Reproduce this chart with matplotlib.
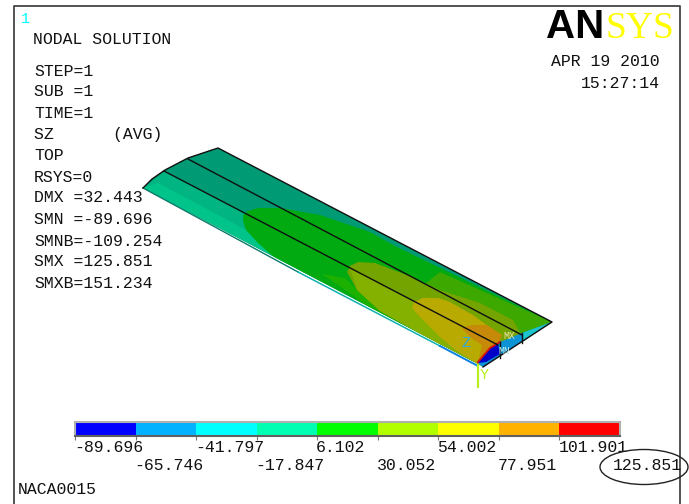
import matplotlib
matplotlib.use("Agg")
import matplotlib.pyplot as plt
from matplotlib.patches import Ellipse, Polygon

W, H = 689, 504

info_lines = ["STEP=1", "SUB =1", "TIME=1", "SZ      (AVG)", "TOP", "RSYS=0", "DMX =32.443",
              "SMN =-89.696", "SMNB=-109.254", "SMX =125.851", "SMXB=151.234"]
info_y = [71, 92, 114, 135, 156, 177, 198, 219, 241, 262, 284]

levels = [-89.696, -65.746, -41.797, -17.847, 6.102, 30.052, 54.002, 77.951, 101.901, 125.851]
level_labels = ["-89.696", "-65.746", "-41.797", "-17.847", "6.102",
                "30.052", "54.002", "77.951", "101.901", "125.851"]
band_colors = ["#0000ff", "#00b2ff", "#00ffff", "#00ffb2", "#00ff00",
               "#b2ff00", "#ffff00", "#ffb200", "#ff0000"]

# wing outline and the contour bands, in image pixels
wing = [(143, 188), (152, 179), (165, 170), (188, 158), (218, 148), (552, 322), (483, 367), (478, 364)]
contours = [
    ([(143, 188), (165, 171), (300, 241), (478, 364)], "#00b582"),
    ([(143, 188), (158, 183), (250, 232), (300, 262), (330, 290), (298, 272)], "#00c48a"),
    ([(298, 273), (275, 258), (258, 243), (246, 230), (243, 221), (243, 215), (248, 211), (258, 208),
      (280, 208), (320, 215), (370, 232), (395, 246), (552, 322), (478, 364)], "#00aa10"),
    ([(322, 274), (345, 278), (357, 290), (380, 311), (440, 347), (395, 325)], "#1cb000"),
    ([(440, 272), (552, 322), (522, 336), (460, 303), (425, 284)], "#3ca800"),
    ([(347, 272), (350, 266), (358, 262), (375, 263), (407, 275), (440, 290), (480, 303), (513, 320),
      (522, 336), (478, 364), (440, 345), (410, 328), (380, 311), (357, 290)], "#74a400"),
    ([(350, 268), (412, 301), (498, 345), (478, 364), (440, 345), (410, 328), (380, 311), (357, 290)], "#84b000"),
    ([(412, 308), (414, 302), (423, 298), (438, 298), (450, 302), (473, 315), (500, 335), (478, 364),
      (457, 351), (440, 337), (420, 317)], "#b8aa00"),
    ([(462, 328), (472, 325), (487, 325), (502, 335), (498, 345), (478, 363), (482, 345), (470, 337)], "#c68a08"),
]
tip_faces = [
    ([(478, 363), (490, 348), (500, 342), (522, 333), (552, 322), (483, 367)], "#0c93d6"),
    ([(522, 333), (552, 322), (522, 342)], "#1cc4cc"),
    ([(478, 363), (490, 348), (498, 344), (500, 354), (486, 362)], "#0000c8"),
]
spar_lines = [
    [(164, 171), (498, 345)],
    [(188, 159), (522, 335)],
    [(500, 342), (500, 358)],
    [(522, 333), (522, 343)],
]

plt.rcParams["font.family"] = ["Liberation Mono", "DejaVu Sans Mono"]
fig = plt.figure(figsize=(W / 100, H / 100), dpi=100)
ax = fig.add_axes([0, 0, 1, 1])
ax.set_xlim(0, W)
ax.set_ylim(H, 0)
ax.axis("off")

# frame
ax.plot([13.5, 13.5, 679.5, 679.5], [H, 6, 6, H], color="#444444", lw=1.3)

# wing
wing_patch = Polygon(wing, closed=True, fc="#009a74", ec="none", zorder=2)
ax.add_patch(wing_patch)
for pts, col in contours:
    p = Polygon(pts, closed=True, fc=col, ec="none", zorder=3)
    ax.add_patch(p)
    p.set_clip_path(wing_patch)
for pts, col in tip_faces:
    ax.add_patch(Polygon(pts, closed=True, fc=col, ec="none", zorder=4))
ax.plot([143, 298], [188, 272], color="#0a7a6a", lw=1.0, zorder=5)
ax.plot([298, 440], [272, 346], color="#10b0b0", lw=1.1, zorder=5)
ax.plot([440, 478], [346, 366], color="#0a80e0", lw=1.4, zorder=5)
ax.plot([478, 490, 500], [362, 348, 342], color="#d81010", lw=1.3, zorder=6)
ax.plot([143, 152, 165, 188, 218, 552, 483], [188, 179, 170, 158, 148, 322, 367],
        color="#101010", lw=1.0, zorder=6)
for line in spar_lines:
    xs, ys = zip(*line)
    ax.plot(xs, ys, color="#101010", lw=1.0, zorder=6)

# triad and markers
ax.plot([478, 478], [365, 387], color="#b8f020", lw=1.6, zorder=7)
ax.text(466, 343, "Z", color="#30a8e0", fontsize=11, ha="center", va="center", zorder=8)
ax.text(484, 375, "Y", color="#b8f020", fontsize=11, ha="center", va="center", zorder=8)
ax.text(509, 336, "MX", color="#f0e0b0", fontsize=7, ha="center", va="center", zorder=8)
ax.text(504, 351, "MN", color="#c0f0f0", fontsize=7, ha="center", va="center", zorder=8)

# header text
ax.text(21, 19, "1", color="#00ffff", fontsize=11, va="center")
ax.text(33, 39, "NODAL SOLUTION", color="#111111", fontsize=11.9, va="center")
for line, y in zip(info_lines, info_y):
    ax.text(34, y, line, color="#111111", fontsize=11.9, va="center")
ax.text(660, 61, "APR 19 2010", color="#111111", fontsize=11.9, ha="right", va="center")
ax.text(660, 84, "15:27:14", color="#111111", fontsize=11.9, ha="right", va="center")
ax.text(18, 489, "NACA0015", color="#111111", fontsize=11.9, va="center")

# logo
ax.text(546, 38, "AN", color="black", fontsize=29, family="Liberation Sans", weight="bold", ha="left", va="baseline")
ax.text(606, 38, "SYS", color="#ffff00", fontsize=27, family="Liberation Serif", ha="left", va="baseline")

# legend bar
cax = fig.add_axes([75 / W, 1 - 436 / H, 545 / W, 14 / H])
widths = [b - a for a, b in zip(levels[:-1], levels[1:])]
cax.bar(levels[:-1], [1] * len(widths), width=widths, align="edge", color=band_colors)
cax.set_xlim(levels[0], levels[-1])
cax.set_ylim(0, 1)
cax.set_yticks([])
cax.set_xticks(levels[:-1])
cax.set_xticklabels([])
cax.tick_params(axis="x", length=3, width=0.8, color="#777777")
for side in cax.spines:
    cax.spines[side].set_color("#b0b0b0")
    cax.spines[side].set_linewidth(1.5)
cax.spines["bottom"].set_color("#606060")

for i, (val, lab) in enumerate(zip(levels[:-1], level_labels[:-1])):
    x_px = 74 + (val - levels[0]) / (levels[-1] - levels[0]) * 545
    ax.text(x_px, 448 if i % 2 == 0 else 465, lab, color="#111111", fontsize=11.9, ha="left", va="center")
ax.text(682, 465, level_labels[-1], color="#111111", fontsize=11.9, ha="right", va="center")

ax.add_patch(Ellipse((644, 467), 88, 35, fc="none", ec="#222222", lw=1.0, zorder=8))

fig.savefig("out.png", dpi=100)
plt.close(fig)
